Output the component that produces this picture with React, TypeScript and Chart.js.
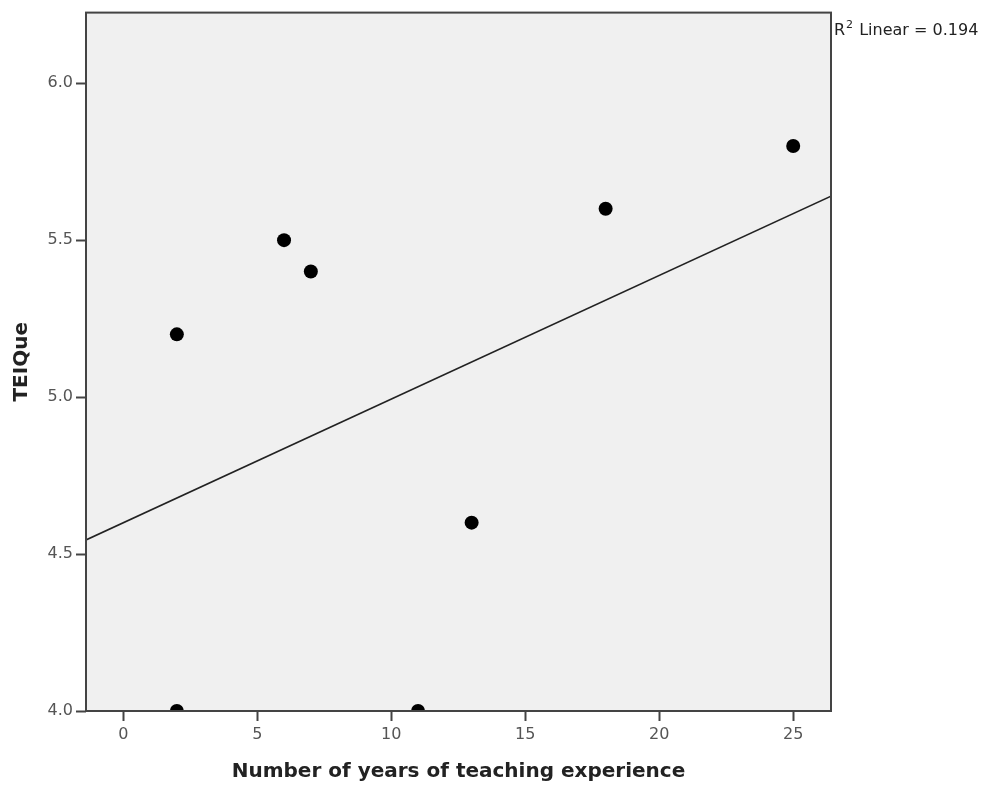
import React, { useEffect, useRef } from "react";
import { Chart, registerables } from "chart.js";

Chart.register(...registerables);

const years = [2, 2, 6, 7, 11, 13, 18, 25];
const teique = [5.2, 4.0, 5.5, 5.4, 4.0, 4.6, 5.6, 5.8];
const fitX = [-1.39, 26.41];
const fitY = [4.545, 5.64];
const xTicks = [0, 5, 10, 15, 20, 25];
const yTicks = [4.0, 4.5, 5.0, 5.5, 6.0];
const xRange = [-1.39, 26.41];
const yRange = [4.0, 6.225];
const r2Label = "0.194";

const framePlugin = {
  id: "frame",
  beforeDatasetsDraw(chart: any) {
    const { ctx, chartArea: a } = chart;
    ctx.save();
    ctx.fillStyle = "#f0f0f0";
    ctx.fillRect(a.left, a.top, a.right - a.left, a.bottom - a.top);
    ctx.restore();
  },
  afterDraw(chart: any) {
    const { ctx, chartArea: a } = chart;
    ctx.save();
    ctx.strokeStyle = "#444";
    ctx.lineWidth = 2;
    ctx.strokeRect(a.left, a.top, a.right - a.left, a.bottom - a.top);
    ctx.fillStyle = "#222";
    ctx.textBaseline = "alphabetic";
    let x = a.right + 3;
    const y = a.top + 22;
    ctx.font = "16px 'DejaVu Sans'";
    ctx.fillText("R", x, y);
    x += ctx.measureText("R").width + 1;
    ctx.font = "11px 'DejaVu Sans'";
    ctx.fillText("2", x, y - 7);
    x += ctx.measureText("2").width + 1;
    ctx.font = "16px 'DejaVu Sans'";
    ctx.fillText(" Linear = " + r2Label, x, y);
    ctx.restore();
  },
};

export default function App() {
  const ref = useRef<HTMLCanvasElement | null>(null);
  useEffect(() => {
    if (!ref.current) return;
    const chart = new Chart(ref.current, {
      type: "scatter",
      data: {
        datasets: [
          {
            type: "scatter",
            data: years.map((x, i) => ({ x, y: teique[i] })),
            backgroundColor: "#000",
            borderColor: "#000",
            borderWidth: 0,
            pointRadius: 7,
            pointHoverRadius: 7,
            clip: 0,
          } as any,
          {
            type: "line",
            data: fitX.map((x, i) => ({ x, y: fitY[i] })),
            borderColor: "#222",
            borderWidth: 1.6,
            pointRadius: 0,
            fill: false,
            clip: 0,
          } as any,
        ],
      },
      options: {
        animation: false,
        responsive: true,
        maintainAspectRatio: false,
        layout: { padding: { left: 0, right: 159, top: 11, bottom: 0 } },
        plugins: { legend: { display: false }, tooltip: { enabled: false } },
        scales: {
          x: {
            type: "linear",
            min: xRange[0],
            max: xRange[1],
            afterBuildTicks: (s: any) => {
              s.ticks = xTicks.map((v) => ({ value: v }));
            },
            afterFit: (s: any) => {
              s.height = 74;
            },
            grid: {
              display: true,
              drawOnChartArea: false,
              drawTicks: true,
              tickLength: 10,
              tickWidth: 2,
              color: "#444",
            },
            border: { display: false },
            ticks: {
              color: "#555",
              font: { family: "'DejaVu Sans'", size: 16 },
              padding: 4,
            },
            title: {
              display: true,
              text: "Number of years of teaching experience",
              color: "#222",
              font: { family: "'DejaVu Sans'", size: 20, weight: "bold" },
              padding: { top: 1, bottom: 1 },
            },
          },
          y: {
            type: "linear",
            min: yRange[0],
            max: yRange[1],
            afterBuildTicks: (s: any) => {
              s.ticks = yTicks.map((v) => ({ value: v }));
            },
            afterFit: (s: any) => {
              s.width = 86;
            },
            grid: {
              display: true,
              drawOnChartArea: false,
              drawTicks: true,
              tickLength: 10,
              tickWidth: 2,
              color: "#444",
            },
            border: { display: false },
            ticks: {
              color: "#555",
              font: { family: "'DejaVu Sans'", size: 16 },
              padding: 3,
              callback: (v: any) => Number(v).toFixed(1),
            },
            title: {
              display: true,
              text: "TEIQue",
              color: "#222",
              font: { family: "'DejaVu Sans'", size: 20, weight: "bold" },
              padding: { top: 10, bottom: 0 },
            },
          },
        },
      },
      plugins: [framePlugin],
    });
    return () => chart.destroy();
  }, []);
  return (
    <div style={{ position: "fixed", left: 0, top: 0, width: 990, height: 785, background: "#fff" }}>
      <canvas ref={ref} />
    </div>
  );
}
